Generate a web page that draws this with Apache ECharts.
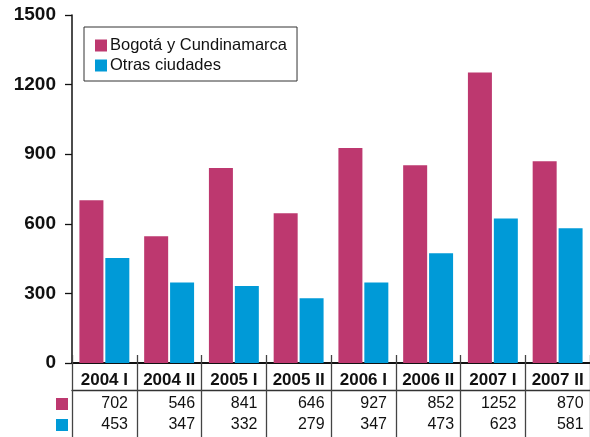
<!DOCTYPE html>
<html>
<head>
<meta charset="utf-8">
<script src="https://cdn.jsdelivr.net/npm/echarts@6/dist/echarts.min.js"></script>
<style>
  html, body { margin: 0; padding: 0; background: #fff; }
  #main { width: 590px; height: 437px; }
</style>
</head>
<body>
<div id="main"></div>
<script>
// periodos y valores
const periods = ['2004 I', '2004 II', '2005 I', '2005 II', '2006 I', '2006 II', '2007 I', '2007 II']
const bogota = [702, 546, 841, 646, 927, 852, 1252, 870]
const otras = [453, 347, 332, 279, 347, 473, 623, 581]
const seriesNames = ['Bogotá y Cundinamarca', 'Otras ciudades']
const yTicks = [0, 300, 600, 900, 1200, 1500]

const font = 'Liberation Sans, Arial, Helvetica, sans-serif'
const magenta = '#bd386f'
const cyan = '#009ad7'

const chart = echarts.init(document.getElementById('main'))

const option = {
  animation: false,
  textStyle: { fontFamily: font, color: '#111' },
  grid: { left: 72, right: 0, top: 15, bottom: 74 },
  legend: [
    {
      data: seriesNames,
      orient: 'vertical',
      left: 84,
      top: 27,
      padding: [10, 10, 7, 11],
      borderColor: '#333',
      borderWidth: 1,
      itemWidth: 12,
      itemHeight: 12,
      itemGap: 3,
      selectedMode: false,
      icon: 'rect',
      textStyle: { fontFamily: font, fontSize: 16.5, color: '#111', padding: [0, 0, 0, -2] }
    },
    {
      // claves de color de la tabla
      data: seriesNames,
      orient: 'vertical',
      left: 56,
      top: 398,
      padding: 0,
      itemWidth: 12,
      itemHeight: 12,
      itemGap: 9,
      selectedMode: false,
      icon: 'rect',
      formatter: () => '',
      textStyle: { fontSize: 1, lineHeight: 12 }
    }
  ],
  xAxis: [
    {
      type: 'category',
      data: periods,
      axisLine: { lineStyle: { color: '#111', width: 2 } },
      axisTick: { show: true, inside: false, length: 74, lineStyle: { color: '#444', width: 1.3 } },
      axisLabel: {
        margin: 4,
        interval: 0,
        formatter: (val, i) => '{h|' + val + '}\n{v|' + bogota[i] + '}\n{v|' + otras[i] + '}',
        rich: {
          h: { fontFamily: font, fontSize: 17, fontWeight: 'bold', color: '#111', lineHeight: 26, align: 'center' },
          v: { fontFamily: font, fontSize: 16, color: '#111', lineHeight: 21, width: 44, align: 'right' }
        }
      }
    },
    {
      type: 'category',
      data: periods,
      position: 'bottom',
      axisLine: { show: false },
      axisTick: { show: true, inside: true, length: 8, lineStyle: { color: '#444', width: 1.3 } },
      axisLabel: { show: false }
    },
    {
      // linea bajo la cabecera de la tabla
      type: 'category',
      data: periods,
      position: 'bottom',
      offset: 27,
      axisLine: { lineStyle: { color: '#333', width: 1.3 } },
      axisTick: { show: false },
      axisLabel: { show: false }
    }
  ],
  yAxis: {
    type: 'value',
    min: yTicks[0],
    max: yTicks[yTicks.length - 1],
    interval: 300,
    splitLine: { show: false },
    axisLine: { show: true, lineStyle: { color: '#111', width: 1.5 } },
    axisTick: { show: true, inside: false, length: 7, lineStyle: { color: '#111', width: 1.3 } },
    axisLabel: {
      margin: 16,
      fontFamily: font,
      fontSize: 19,
      fontWeight: 'bold',
      color: '#111',
      formatter: (v) => String(v)
    }
  },
  series: [
    {
      name: seriesNames[0],
      type: 'bar',
      data: bogota,
      barWidth: 24,
      barGap: '8%',
      itemStyle: { color: magenta }
    },
    {
      name: seriesNames[1],
      type: 'bar',
      data: otras,
      barWidth: 24,
      barGap: '8%',
      itemStyle: { color: cyan }
    }
  ]
}

chart.setOption(option)
</script>
</body>
</html>
